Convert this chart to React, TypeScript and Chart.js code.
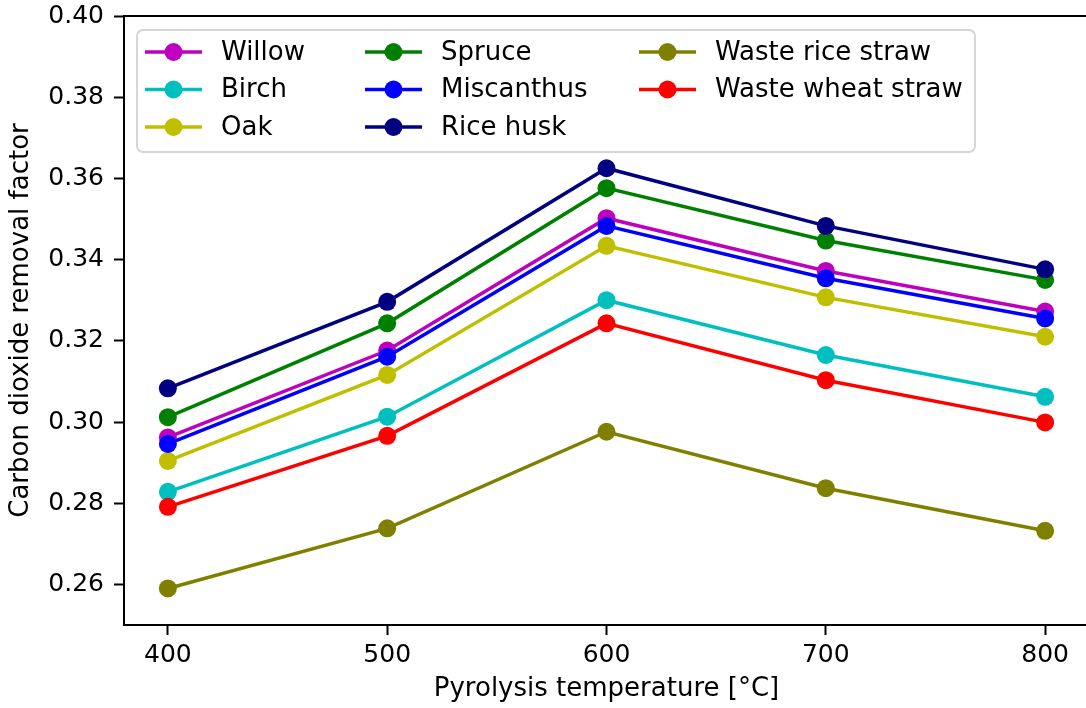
import React, { useEffect, useRef } from "react";
import { Chart, registerables } from "chart.js";

Chart.register(...registerables);

const temperatures = [400, 500, 600, 700, 800];
const xTicks = [400, 500, 600, 700, 800];
const yTicks = [0.26, 0.28, 0.3, 0.32, 0.34, 0.36, 0.38, 0.4];

const willow = [0.2962, 0.3176, 0.3502, 0.3372, 0.3272];
const birch = [0.2828, 0.3013, 0.33, 0.3165, 0.3062];
const oak = [0.2904, 0.3116, 0.3434, 0.3307, 0.321];
const spruce = [0.3012, 0.3243, 0.3576, 0.3447, 0.335];
const miscanthus = [0.2946, 0.3161, 0.3483, 0.3354, 0.3255];
const riceHusk = [0.3083, 0.3296, 0.3625, 0.3483, 0.3376];
const wasteRiceStraw = [0.259, 0.2738, 0.2976, 0.2837, 0.2732];
const wasteWheatStraw = [0.2791, 0.2966, 0.3243, 0.3103, 0.2999];

const seriesNames = [
  "Willow",
  "Birch",
  "Oak",
  "Spruce",
  "Miscanthus",
  "Rice husk",
  "Waste rice straw",
  "Waste wheat straw",
];
const seriesValues = [willow, birch, oak, spruce, miscanthus, riceHusk, wasteRiceStraw, wasteWheatStraw];
const seriesColors = ["#bf00bf", "#00bfbf", "#bfbf00", "#008000", "#0000ff", "#000080", "#808000", "#ff0000"];

const FONT = "DejaVu Sans";

const framePlugin = {
  id: "frame",
  afterDatasetsDraw(chart: any) {
    const { ctx, chartArea } = chart;
    ctx.save();
    ctx.strokeStyle = "#000";
    ctx.lineWidth = 2;
    ctx.beginPath();
    ctx.moveTo(chartArea.left, chartArea.top);
    ctx.lineTo(chartArea.right, chartArea.top);
    ctx.lineTo(chartArea.right, chartArea.bottom);
    ctx.stroke();
    ctx.restore();
  },
};

const legendPlugin = {
  id: "customLegend",
  afterDraw(chart: any) {
    const { ctx } = chart;
    const box = { x: 137, y: 30, w: 838, h: 122, r: 6 };
    ctx.save();
    ctx.beginPath();
    ctx.roundRect(box.x, box.y, box.w, box.h, box.r);
    ctx.fillStyle = "rgba(255,255,255,0.8)";
    ctx.fill();
    ctx.strokeStyle = "#d6d6d6";
    ctx.lineWidth = 2;
    ctx.stroke();
    const colX = [145, 365, 639];
    const rowY = [52, 89.5, 127];
    ctx.font = `26px "${FONT}"`;
    ctx.textBaseline = "middle";
    ctx.textAlign = "left";
    chart.data.datasets.forEach((ds: any, i: number) => {
      const c = Math.floor(i / 3);
      const r = i % 3;
      const x0 = colX[c];
      const y = rowY[r];
      ctx.strokeStyle = ds.borderColor;
      ctx.lineWidth = 3.5;
      ctx.beginPath();
      ctx.moveTo(x0, y);
      ctx.lineTo(x0 + 57, y);
      ctx.stroke();
      ctx.fillStyle = ds.borderColor;
      ctx.beginPath();
      ctx.arc(x0 + 28.5, y, 9, 0, Math.PI * 2);
      ctx.fill();
      ctx.fillStyle = "#000";
      ctx.fillText(ds.label, x0 + 76, y + 1);
    });
    ctx.restore();
  },
};

export default function App() {
  const canvasRef = useRef<HTMLCanvasElement | null>(null);

  useEffect(() => {
    document.body.style.margin = "0";
    const canvas = canvasRef.current;
    if (!canvas) return;
    const datasets = seriesNames.map((name, i) => ({
      label: name,
      data: temperatures.map((t, j) => ({ x: t, y: seriesValues[i][j] })),
      borderColor: seriesColors[i],
      backgroundColor: seriesColors[i],
      pointBackgroundColor: seriesColors[i],
      pointBorderColor: seriesColors[i],
      pointBorderWidth: 0,
      pointRadius: 9,
      borderWidth: 3.5,
      tension: 0,
      order: seriesNames.length - i,
    }));
    const axisCommon = {
      grid: {
        display: true,
        drawOnChartArea: false,
        drawTicks: true,
        tickLength: 10,
        tickWidth: 2,
        tickColor: "#000",
        color: "#000",
      },
      border: { display: true, color: "#000", width: 2 },
    };
    const chart = new Chart(canvas, {
      type: "line",
      data: { datasets },
      plugins: [framePlugin, legendPlugin],
      options: {
        animation: false,
        responsive: false,
        devicePixelRatio: 1,
        layout: { padding: { top: 16, right: 1, bottom: 0, left: 0 } },
        plugins: { legend: { display: false }, tooltip: { enabled: false } },
        scales: {
          x: {
            type: "linear",
            min: 380,
            max: 820,
            ...axisCommon,
            afterBuildTicks: (scale: any) => {
              scale.ticks = xTicks.map((v) => ({ value: v }));
            },
            afterFit: (scale: any) => {
              scale.height = 83;
              scale.paddingLeft = 0;
              scale.paddingRight = 0;
            },
            ticks: {
              color: "#000",
              font: { family: FONT, size: 25 },
              padding: 5,
              maxRotation: 0,
              callback: (v: any) => String(v),
            },
            title: {
              display: true,
              text: "Pyrolysis temperature [°C]",
              color: "#000",
              font: { family: FONT, size: 26 },
              padding: { top: 0, bottom: 3 },
            },
          },
          y: {
            type: "linear",
            min: 0.25,
            max: 0.4,
            ...axisCommon,
            afterBuildTicks: (scale: any) => {
              scale.ticks = yTicks.map((v) => ({ value: v }));
            },
            afterFit: (scale: any) => {
              scale.width = 124;
              scale.paddingTop = 0;
              scale.paddingBottom = 0;
            },
            ticks: {
              color: "#000",
              font: { family: FONT, size: 25 },
              padding: 10,
              callback: (v: any) => Number(v).toFixed(2),
            },
            title: {
              display: true,
              text: "Carbon dioxide removal factor",
              color: "#000",
              font: { family: FONT, size: 26 },
              padding: { top: 6, bottom: 0 },
            },
          },
        },
      },
    } as any);
    return () => chart.destroy();
  }, []);

  return (
    <div style={{ width: 1086, height: 708, overflow: "hidden", position: "relative", background: "#fff" }}>
      <canvas ref={canvasRef} width={1098} height={708} style={{ display: "block" }} />
    </div>
  );
}
